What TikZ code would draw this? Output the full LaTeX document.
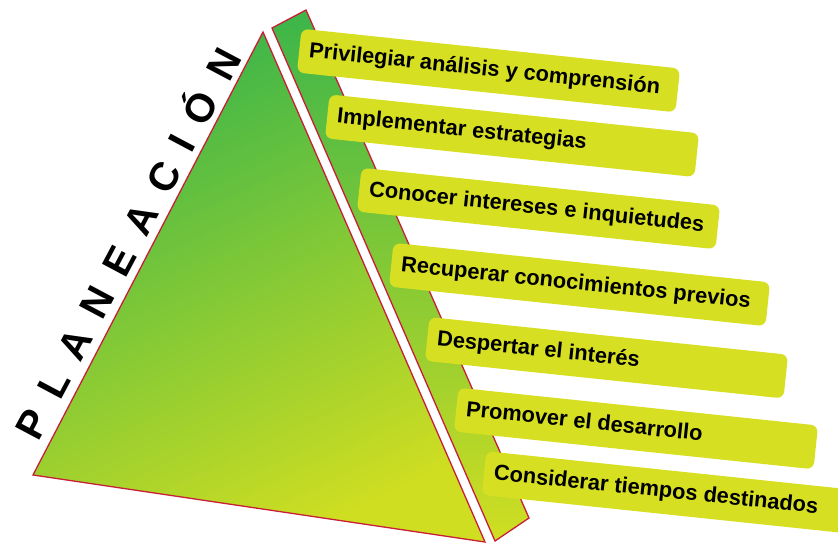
\documentclass[tikz,border=0pt]{standalone}
\usepackage{fontspec}
\setmainfont{Liberation Sans}
\definecolor{gtop}{RGB}{59,181,74}
\definecolor{gbot}{RGB}{208,222,33}
\definecolor{boxy}{RGB}{215,223,35}
\definecolor{edgered}{RGB}{200,30,55}
\newcommand\bxt[2]{\makebox[#1][l]{#2}}
\newcommand\lsp{\hspace{18.9pt}}
\begin{document}
\begin{tikzpicture}[x=1pt,y=-1pt,
  bx/.style={fill=boxy, rounded corners=7pt, rotate=-6, minimum height=44pt,
    inner xsep=10pt, inner ysep=0pt, text height=15.5pt, text depth=4.5pt,
    font=\fontsize{21.8}{24}\selectfont\bfseries},
  face/.style={draw=edgered, line width=1.3pt, line join=miter}]
\useasboundingbox (0,0) rectangle (838,543);
% back strip
\coordinate (s1) at (272,28);
\coordinate (s2) at (306,10);
\coordinate (s3) at (529,518);
\coordinate (s4) at (495,541);
\path[face, top color=gtop, bottom color=gbot] (s1) -- (s2) -- (s3) -- (s4) -- cycle;
% pyramid face
\coordinate (apex) at (263,32);
\coordinate (br) at (485,542);
\coordinate (bl) at (33,475);
\path[face, top color=gtop, bottom color=gbot, shading angle=25] (apex) -- (br) -- (bl) -- cycle;
% title
\node[rotate=62, anchor=base, inner sep=0pt, font=\fontsize{40}{40}\selectfont\bfseries] (title) at (140.7,250.2)
  {P\lsp L\lsp A\lsp N\lsp E\lsp A\lsp C\lsp I\lsp Ó\lsp N};
% boxes
\node[bx] (b1) at (488.5,70.5) {\bxt{360.6pt}{Privilegiar análisis y comprensión}};
\node[bx] (b2) at (512,135.75) {\bxt{351.5pt}{Implementar estrategias}};
\node[bx] (b3) at (538.5,208.5) {\bxt{340.5pt}{Conocer intereses e inquietudes}};
\node[bx] (b4) at (579.5,284.5) {\bxt{358.6pt}{Recuperar conocimientos previos}};
\node[bx] (b5) at (606.5,357.75) {\bxt{340.5pt}{Despertar el interés}};
\node[bx] (b6) at (636,428.5) {\bxt{341.5pt}{Promover el desarrollo}};
\node[bx] (b7) at (669,492.5) {\bxt{352pt}{Considerar tiempos destinados}};
\end{tikzpicture}
\end{document}
